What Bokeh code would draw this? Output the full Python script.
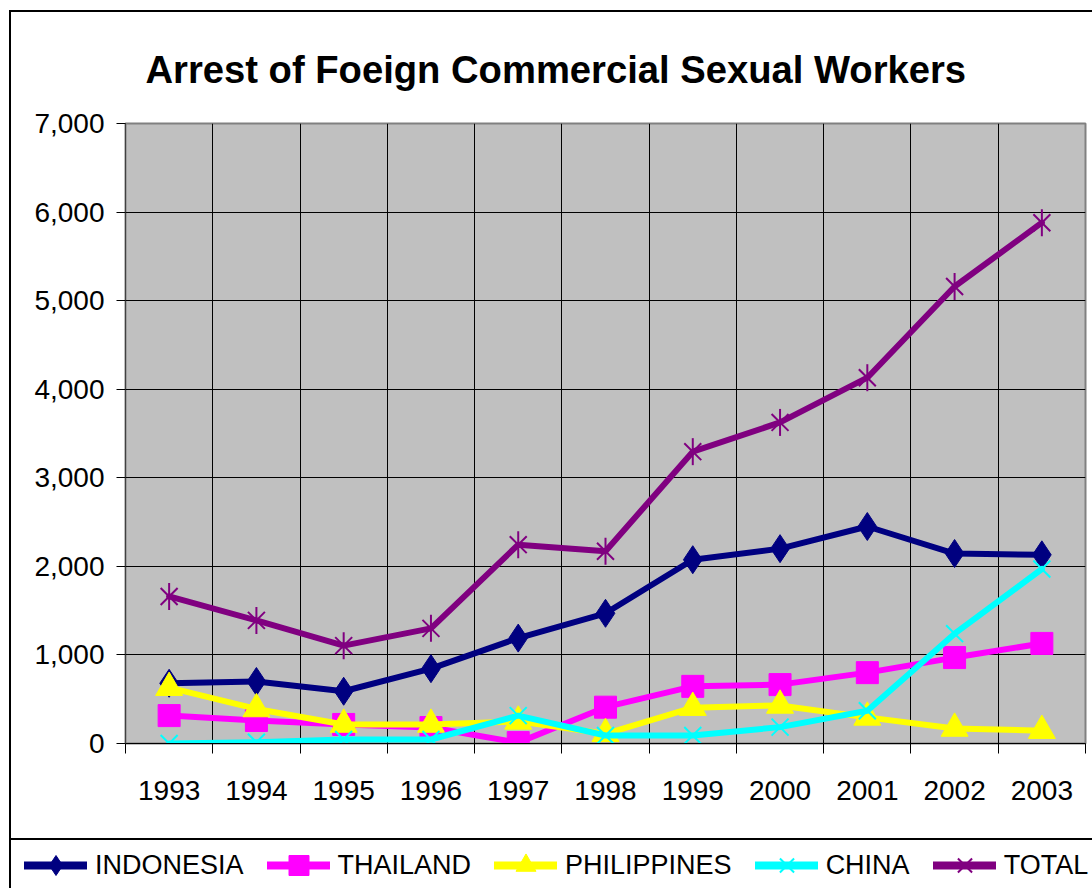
import math
from bokeh.plotting import figure
from bokeh.layouts import column
from bokeh.models import (FixedTicker, NumeralTickFormatter, Legend, LegendItem,
                          Range1d, Title)
from bokeh.embed import file_html
from bokeh.resources import INLINE

# ---- data ----
years = ["1993", "1994", "1995", "1996", "1997", "1998", "1999", "2000", "2001", "2002", "2003"]
indonesia = [680, 700, 590, 845, 1190, 1470, 2075, 2200, 2450, 2145, 2130]
thailand = [315, 260, 215, 180, 10, 410, 645, 665, 800, 970, 1130]
philippines = [630, 390, 215, 215, 250, 110, 405, 430, 295, 170, 145]
china = [0, 15, 45, 45, 315, 90, 90, 185, 370, 1240, 1970]
total = [1660, 1390, 1105, 1300, 2245, 2170, 3295, 3625, 4130, 5160, 5880]
series_names = ["INDONESIA", "THAILAND", "PHILIPPINES", "CHINA", "TOTAL"]
y_ticks = [0, 1000, 2000, 3000, 4000, 5000, 6000, 7000]
title_text = "Arrest of Foeign Commercial Sexual Workers"

FONT = "Liberation Sans"
navy, magenta, yellow, cyan, purple = "#000080", "#FF00FF", "#FFFF00", "#00FFFF", "#800080"

# category slots: centre of each year slot, boundaries between slots
xc = [i + 0.5 for i in range(len(years))]
xb = [i for i in range(len(years) + 1)]

p = figure(width=1081, height=826,
           x_range=Range1d(0, len(years)), y_range=Range1d(0, 7000),
           output_backend="svg", toolbar_location=None,
           min_border_left=114, min_border_right=7,
           min_border_top=111, min_border_bottom=95,
           background_fill_color="#C0C0C0", border_fill_color="white")
p.frame_align = False

p.title = Title(text=title_text, text_font=FONT, text_font_size="38.2px",
                text_font_style="bold", text_color="black",
                align="left", offset=20, standoff=66)

p.outline_line_color = "#808080"
p.outline_line_width = 2

# y axis
yt = FixedTicker(ticks=y_ticks)
p.yaxis.ticker = yt
p.ygrid.ticker = yt
p.yaxis.formatter = NumeralTickFormatter(format="0,0")
p.yaxis.major_label_text_font = FONT
p.yaxis.major_label_text_font_size = "28px"
p.yaxis.major_label_text_color = "black"
p.yaxis.major_tick_out = 9
p.yaxis.major_tick_in = 0
p.yaxis.minor_tick_out = 0
p.yaxis.minor_tick_in = 0
p.yaxis.major_tick_line_color = "black"
p.yaxis.axis_line_color = "#404040"
p.yaxis.major_label_standoff = 12

# x axis: labels at slot centres, ticks/grid at slot boundaries
xt = FixedTicker(ticks=xc, minor_ticks=xb)
p.xaxis.ticker = xt
p.xgrid.ticker = xt
p.xaxis.major_label_overrides = {c: y for c, y in zip(xc, years)}
p.xaxis.major_label_text_font = FONT
p.xaxis.major_label_text_font_size = "28px"
p.xaxis.major_label_text_color = "black"
p.xaxis.major_tick_out = 0
p.xaxis.major_tick_in = 0
p.xaxis.minor_tick_out = 10
p.xaxis.minor_tick_in = 0
p.xaxis.minor_tick_line_color = "black"
p.xaxis.axis_line_color = "black"
p.xaxis.major_label_standoff = 27

p.xgrid.grid_line_color = None
p.xgrid.minor_grid_line_color = "black"
p.xgrid.minor_grid_line_width = 1
p.ygrid.grid_line_color = "black"
p.ygrid.grid_line_width = 1


def add_series(fig, ys, color, marker, size, lw=6):
    rs = [fig.line(xc, ys, line_color=color, line_width=lw, line_cap="round")]
    if marker == "asterisk":
        rs.append(fig.scatter(xc, ys, marker="x", size=size, line_color=color, line_width=2))
        rs.append(fig.scatter(xc, ys, marker="dash", size=size + 3, angle=math.pi / 2,
                              line_color=color, line_width=2))
    elif marker == "x":
        rs.append(fig.scatter(xc, ys, marker="x", size=size, line_color=color, line_width=2))
    else:
        rs.append(fig.scatter(xc, ys, marker=marker, size=size,
                              fill_color=color, line_color=color))
    return rs


specs = [
    (indonesia, navy, "diamond", 28),
    (thailand, magenta, "square", 22),
    (philippines, yellow, "triangle", 27),
    (china, cyan, "x", 24),
    (total, purple, "asterisk", 24),
]

# series on the chart (drawn in Excel order: later series on top)
for ys, color, marker, size in specs:
    add_series(p, ys, color, marker, size)

# ---- legend strip (separate figure spanning the full chart width) ----
# same series drawn again, but outside this strip's visible range, so only
# their legend glyphs show
q = figure(width=1081, height=50,
           x_range=Range1d(0, len(years)), y_range=Range1d(20000, 21000),
           output_backend="svg", toolbar_location=None,
           x_axis_location=None, y_axis_location=None,
           min_border=0, min_border_left=0, min_border_right=0,
           min_border_top=0, min_border_bottom=0,
           background_fill_color="white", border_fill_color="white")
q.frame_align = False
q.outline_line_color = None
q.xgrid.visible = False
q.ygrid.visible = False
q.styles = {"border-top": "2px solid black"}

items = []
for name, (ys, color, marker, size) in zip(series_names, specs):
    rs = add_series(q, ys, color, marker, size, lw=8)
    items.append(LegendItem(label=name, renderers=rs))

legend = Legend(items=items, orientation="horizontal", location=(13, 0),
                label_text_font=FONT, label_text_font_size="27px", label_text_color="black",
                glyph_width=63, glyph_height=50, label_height=50, label_standoff=8,
                spacing=23, padding=0, margin=0,
                border_line_color=None,
                background_fill_color="white", background_fill_alpha=0.0)
q.add_layout(legend, "center")

layout = column(p, q, spacing=0)
layout.styles = {"margin-left": "9px", "margin-top": "10px",
                 "border-left": "2px solid black", "border-top": "2px solid black"}

open("out.html", "w").write(file_html(layout, INLINE))
